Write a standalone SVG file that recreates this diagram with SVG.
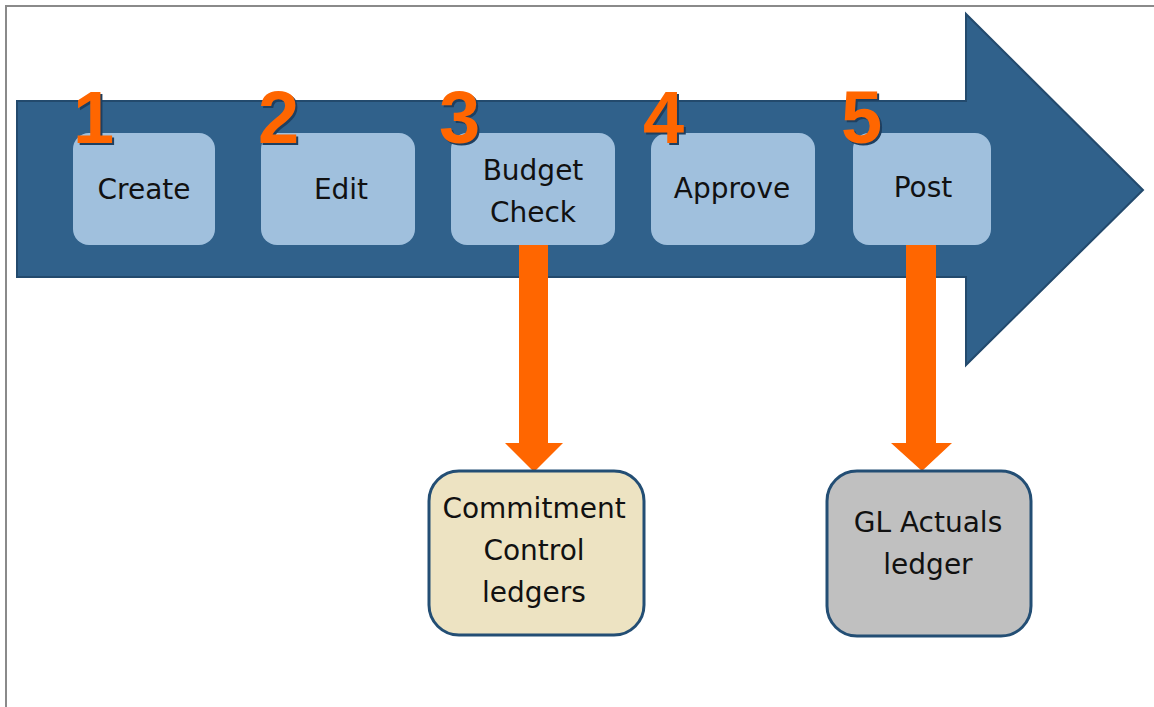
<svg xmlns="http://www.w3.org/2000/svg" width="1154" height="707" viewBox="0 0 1154 707">
<style>
.step{fill:#A0C0DD}
.lbl{font-family:"DejaVu Sans",sans-serif;font-size:28px;fill:#111;text-anchor:middle}
.num{font-family:"Liberation Sans",sans-serif;font-weight:bold;font-size:74px;fill:#FF6600}
.numsh{font-family:"Liberation Sans",sans-serif;font-weight:bold;font-size:74px;fill:#1E3F60}
.flow{fill:#FF6600}
</style>
<rect width="1154" height="707" fill="#fff"/>
<path d="M6,707 V6 H1154" fill="none" stroke="#8a8a8a" stroke-width="2"/>
<g id="mainArrow">
<path d="M17,101 H966 V14 L1143,190 L966,365 V277 H17 Z" fill="#30618B" stroke="#234A6D" stroke-width="2"/>
</g>
<g id="create">
<rect class="step" x="73" y="133" width="142" height="112" rx="16"/>
<text class="numsh" x="75" y="145">1</text><text class="num" x="73" y="143">1</text>
<text class="lbl" x="144" y="199">Create</text>
</g>
<g id="edit">
<rect class="step" x="261" y="133" width="154" height="112" rx="16"/>
<text class="numsh" x="260" y="145">2</text><text class="num" x="258" y="143">2</text>
<text class="lbl" x="341" y="199">Edit</text>
</g>
<g id="budget">
<rect class="step" x="451" y="133" width="164" height="112" rx="16"/>
<text class="numsh" x="441" y="145">3</text><text class="num" x="439" y="143">3</text>
<text class="lbl" x="533" y="180">Budget</text>
<text class="lbl" x="533" y="222">Check</text>
</g>
<g id="approve">
<rect class="step" x="651" y="133" width="164" height="112" rx="16"/>
<text class="numsh" x="645" y="145">4</text><text class="num" x="643" y="143">4</text>
<text class="lbl" x="732" y="198">Approve</text>
</g>
<g id="post">
<rect class="step" x="853" y="133" width="138" height="112" rx="16"/>
<text class="numsh" x="843" y="145">5</text><text class="num" x="841" y="143">5</text>
<text class="lbl" x="923" y="197">Post</text>
</g>
<g id="connectors">
<path class="flow" d="M519,245 H548 V443 H563 L534,472 L505,443 H519 Z"/>
<path class="flow" d="M906,245 H936 V443 H952 L922,471 L891,443 H906 Z"/>
</g>
<g id="commitment">
<rect x="429" y="471" width="215" height="164" rx="30" fill="#EDE3C2" stroke="#234E74" stroke-width="3"/>
<text class="lbl" x="534" y="518">Commitment</text>
<text class="lbl" x="534" y="560">Control</text>
<text class="lbl" x="534" y="602">ledgers</text>
</g>
<g id="glActuals">
<rect x="827" y="471" width="204" height="165" rx="30" fill="#C0C0C0" stroke="#234E74" stroke-width="3"/>
<text class="lbl" x="928" y="532">GL Actuals</text>
<text class="lbl" x="928" y="574">ledger</text>
</g>
</svg>
